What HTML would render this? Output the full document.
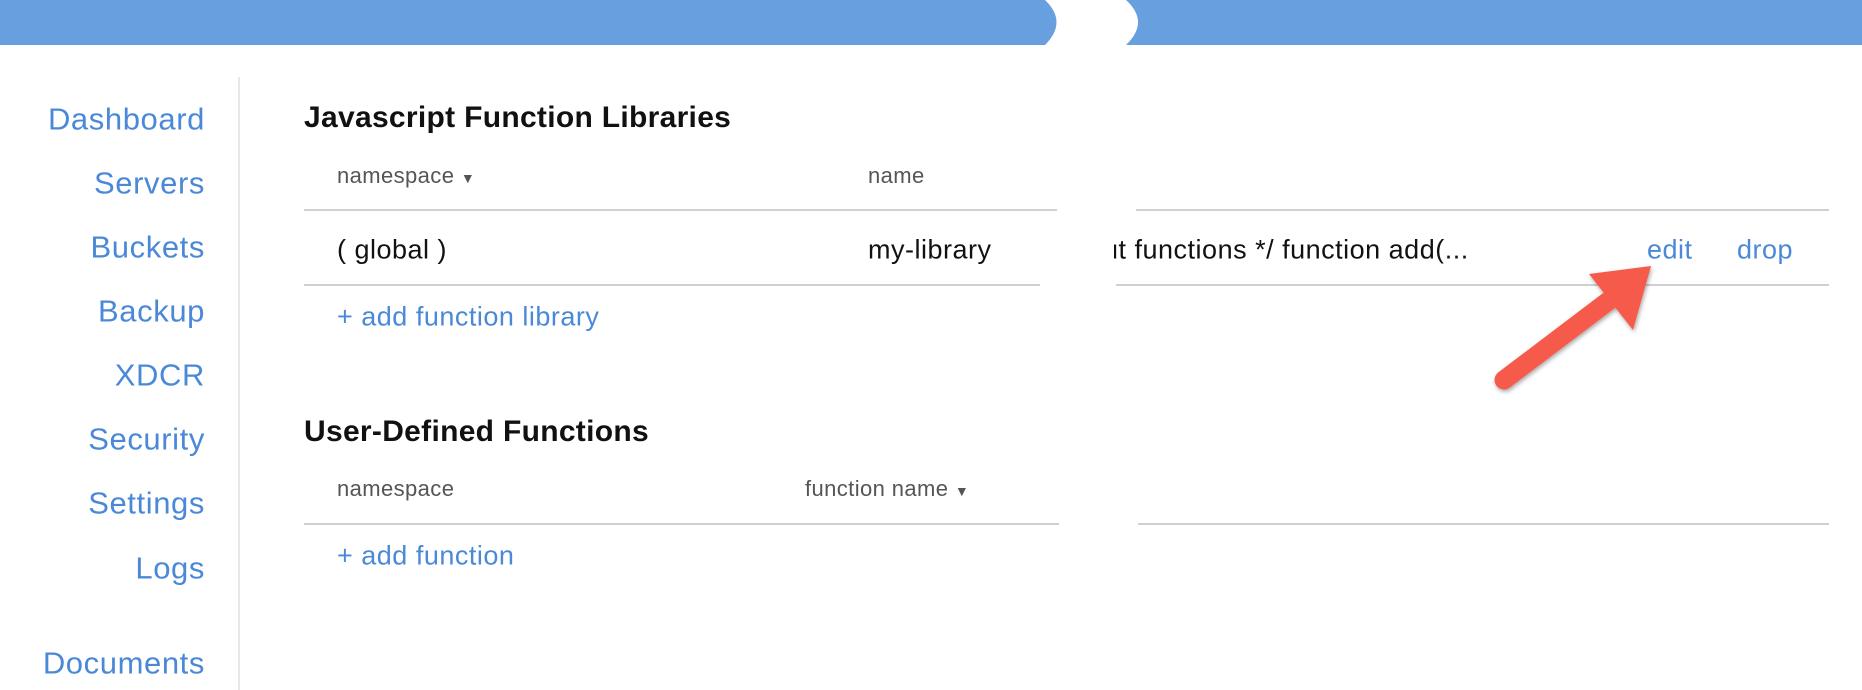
<!DOCTYPE html>
<html><head><meta charset="utf-8"><style>
body{margin:0;width:1862px;height:690px;background:#fff;position:relative;overflow:hidden;font-family:"Liberation Sans","DejaVu Sans",sans-serif}
.a{position:absolute;white-space:nowrap;line-height:1}
.nav{right:1657px;font-size:31px;letter-spacing:0.6px;color:#4a88d8;text-align:right;transform:translateY(-50%)}
.h{font-size:30px;font-weight:bold;letter-spacing:0.3px;color:#111;left:304px;transform:translateY(-50%)}
.c{font-size:22px;letter-spacing:0.4px;color:#555;transform:translateY(-50%)}
.r{font-size:27px;letter-spacing:0.5px;color:#111;transform:translateY(-50%)}
.b{font-size:27px;letter-spacing:0.5px;color:#4a88d8;transform:translateY(-50%)}
.l{position:absolute;height:2px;background:#d0d0d0}
</style></head><body>
<svg class="a" style="left:0;top:0" width="1862" height="46">
<path d="M0 0 H1045 Q1068 22 1045 45 H0 Z" fill="#689fdf"/>
<path d="M1126 0 H1862 V45 H1126 Q1150 22 1126 0 Z" fill="#689fdf"/>
</svg>
<div style="position:absolute;left:238px;top:77px;width:2px;height:613px;background:#e8e8e8"></div>
<div class="a nav" style="top:119px">Dashboard</div>
<div class="a nav" style="top:183px">Servers</div>
<div class="a nav" style="top:247px">Buckets</div>
<div class="a nav" style="top:311px">Backup</div>
<div class="a nav" style="top:375px">XDCR</div>
<div class="a nav" style="top:439px">Security</div>
<div class="a nav" style="top:503px">Settings</div>
<div class="a nav" style="top:568px">Logs</div>
<div class="a nav" style="top:663px">Documents</div>

<div class="a h" style="top:118px">Javascript Function Libraries</div>
<div class="a c" style="left:337px;top:176px">namespace <span style="font-size:14px">▼</span></div>
<div class="a c" style="left:868px;top:176px">name</div>
<div class="l" style="left:304px;width:753px;top:209px"></div>
<div class="l" style="left:1136px;width:693px;top:209px"></div>
<div class="a r" style="left:337px;top:250px">( global )</div>
<div class="a r" style="left:868px;top:250px">my-library</div>
<div class="a r" style="left:1114px;top:250px;width:440px;overflow:hidden"><span style="position:relative;left:-11px">ut functions */ function add(...</span></div>
<div class="a b" style="left:1647px;top:250px">edit</div>
<div class="a b" style="left:1737px;top:250px">drop</div>
<div class="l" style="left:304px;width:736px;top:284px"></div>
<div class="l" style="left:1116px;width:713px;top:284px"></div>
<div class="a b" style="left:337px;top:317px">+ add function library</div>

<div class="a h" style="top:432px">User-Defined Functions</div>
<div class="a c" style="left:337px;top:489px">namespace</div>
<div class="a c" style="left:805px;top:489px">function name <span style="font-size:14px">▼</span></div>
<div class="l" style="left:304px;width:755px;top:523px"></div>
<div class="l" style="left:1138px;width:691px;top:523px"></div>
<div class="a b" style="left:337px;top:556px">+ add function</div>

<svg class="a" style="left:0;top:0" width="1862" height="690">
<defs><filter id="s" x="-20%" y="-20%" width="140%" height="140%"><feDropShadow dx="1" dy="2" stdDeviation="2" flood-color="#000" flood-opacity="0.35"/></filter></defs>
<g filter="url(#s)" fill="#f65a4b">
<line x1="1504" y1="380" x2="1615" y2="296" stroke="#f65a4b" stroke-width="19" stroke-linecap="round"/>
<polygon points="1589,274 1651,266 1633,330"/>
</g>
</svg>
</body></html>
